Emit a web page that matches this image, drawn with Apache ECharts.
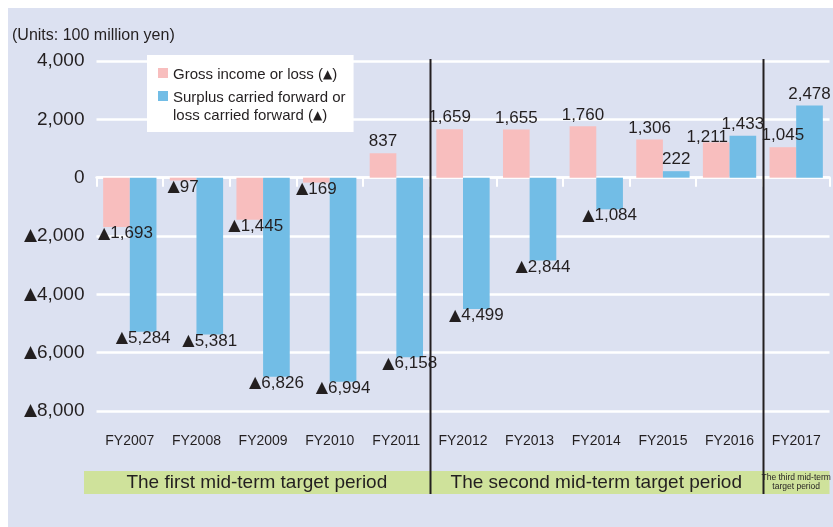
<!DOCTYPE html>
<html>
<head>
<meta charset="utf-8">
<script src="https://cdn.jsdelivr.net/npm/echarts@6/dist/echarts.min.js"></script>
<style>
  html, body { margin: 0; padding: 0; background: #fff; }
  #bg { position: absolute; left: 8px; top: 8px; width: 825px; height: 519px; background: #dce1f1; }
  #chart { position: absolute; left: 0; top: 0; width: 833px; height: 527px; }
</style>
</head>
<body>
<div id="bg"></div>
<div id="chart"></div>
<script>
const years = ['FY2007', 'FY2008', 'FY2009', 'FY2010', 'FY2011', 'FY2012', 'FY2013', 'FY2014', 'FY2015', 'FY2016', 'FY2017'];
const grossIncome = [-1693, -97, -1445, -169, 837, 1659, 1655, 1760, 1306, 1211, 1045];
const surplus = [-5284, -5381, -6826, -6994, -6158, -4499, -2844, -1084, 222, 1433, 2478];
const periodNames = ['The first mid-term target period', 'The second mid-term target period', 'The third mid-term\ntarget period'];
const periodFirst = [0, 5, 10];
const periodLast = [4, 9, 10];

const grossName = 'Gross income or loss (▲)';
const surplusName = 'Surplus carried forward or\nloss carried forward (▲)';
const FONT = '"Liberation Sans", Arial, sans-serif';
const TRI_FONT = '"DejaVu Sans", sans-serif';
const INK = '#231f20';

// ▲ marks negative numbers (drawn as rich text so the triangle gets a solid glyph)
const fmt = v => (v < 0 ? '{t|▲}' : '') + Math.abs(v).toLocaleString('en-US');

// small label nudges where labels collide in the original
const grossNudge = { 0: [9, 0], 2: [6, 0], 9: [-9, 6] };

const toBarData = (values, nudge) => values.map((v, i) => ({
  value: v,
  label: {
    position: v < 0 ? 'bottom' : 'top',
    distance: v < 0 ? -2 : 3,
    offset: nudge[i] || [0, 0]
  }
}));

const chart = echarts.init(document.getElementById('chart'), null, { renderer: 'canvas' });

const barLabel = {
  show: true,
  formatter: p => fmt(p.value),
  fontSize: 17,
  color: INK,
  fontFamily: FONT,
  rich: { t: { fontFamily: TRI_FONT, fontSize: 16, color: INK } }
};

chart.setOption({
  animation: false,
  textStyle: { fontFamily: FONT },
  title: {
    text: '(Units: 100 million yen)',
    left: 12,
    top: 28,
    padding: 0,
    textStyle: { fontSize: 16, fontWeight: 'normal', color: INK, fontFamily: FONT }
  },
  legend: {
    orient: 'vertical',
    left: 147,
    top: 55,
    backgroundColor: '#fff',
    padding: [7, 8, 7, 11],
    itemWidth: 10,
    itemHeight: 10,
    itemGap: -17,
    icon: 'rect',
    formatter: name => name.replace('▲', '{t|▲}'),
    textStyle: {
      fontSize: 15,
      color: INK,
      lineHeight: 18,
      fontFamily: FONT,
      rich: { t: { fontFamily: TRI_FONT, fontSize: 12, color: INK, lineHeight: 18 } }
    },
    data: [
      { name: grossName, textStyle: { padding: [4, 0, 0, 0] } },
      { name: surplusName, textStyle: { padding: [22, 0, 0, 0] } }
    ]
  },
  grid: {
    left: 96.5,
    right: 3.5,
    top: 61,
    bottom: 116,
    containLabel: false,
    outerBoundsMode: 'none'
  },
  xAxis: [
    {
      type: 'category',
      data: years,
      axisLine: { onZero: true, lineStyle: { color: '#fff', width: 2.5 } },
      axisTick: { show: true, length: 9, lineStyle: { color: '#fff', width: 2 } },
      axisLabel: { show: false },
      splitLine: { show: false }
    },
    {
      type: 'category',
      data: years,
      position: 'bottom',
      axisLine: { show: false },
      axisTick: { show: false },
      axisLabel: { fontSize: 14, color: INK, margin: 23, fontFamily: FONT },
      splitLine: { show: false }
    }
  ],
  yAxis: {
    type: 'value',
    min: -8000,
    max: 4000,
    interval: 2000,
    axisLine: { show: false },
    axisTick: { show: false },
    axisLabel: {
      formatter: fmt,
      fontSize: 19,
      color: INK,
      margin: 12,
      fontFamily: FONT,
      rich: { t: { fontFamily: TRI_FONT, fontSize: 17, color: INK } }
    },
    splitLine: { lineStyle: { color: '#fff', width: 2.5 } }
  },
  series: [
    {
      name: grossName,
      type: 'bar',
      data: toBarData(grossIncome, grossNudge),
      barWidth: '40%',
      barGap: '0%',
      itemStyle: { color: '#f8bebe' },
      label: barLabel
    },
    {
      name: surplusName,
      type: 'bar',
      data: toBarData(surplus, {}),
      barWidth: '40%',
      barGap: '0%',
      itemStyle: { color: '#72bde6' },
      label: barLabel
    }
  ]
});

// period band and dividers, placed from the axis scale
const px = i => chart.convertToPixel({ xAxisIndex: 0 }, i);
const half = (px(1) - px(0)) / 2;
const yTop = chart.convertToPixel({ yAxisIndex: 0 }, 4000);
const yBottom = chart.convertToPixel({ yAxisIndex: 0 }, -8000);
const bandTop = yBottom + 60;
const bandH = 23;
const bandLeft = px(0) - half - 12.5;
const bandRight = px(years.length - 1) + half;

const graphics = [{
  type: 'rect',
  shape: { x: bandLeft, y: bandTop, width: bandRight - bandLeft, height: bandH },
  style: { fill: '#cfe29b' },
  z: 1
}];

periodNames.forEach((name, k) => {
  const left = k === 0 ? bandLeft : px(periodFirst[k]) - half;
  const right = px(periodLast[k]) + half;
  const small = k === 2;
  graphics.push({
    type: 'text',
    x: (left + right) / 2,
    y: bandTop + bandH / 2,
    z: 2,
    style: {
      text: name,
      align: 'center',
      verticalAlign: 'middle',
      fill: INK,
      fontSize: small ? 8.5 : 19,
      lineHeight: small ? 9 : 22,
      fontFamily: small ? '"Liberation Sans Narrow", "Liberation Sans", sans-serif' : FONT
    }
  });
  if (k > 0) {
    const xLine = Math.round(px(periodFirst[k]) - half) + 0.5;
    graphics.push({
      type: 'line',
      shape: { x1: xLine, y1: yTop - 2, x2: xLine, y2: bandTop + bandH },
      style: { stroke: INK, lineWidth: 2 },
      z: 3
    });
  }
});

chart.setOption({ graphic: graphics });
</script>
</body>
</html>
